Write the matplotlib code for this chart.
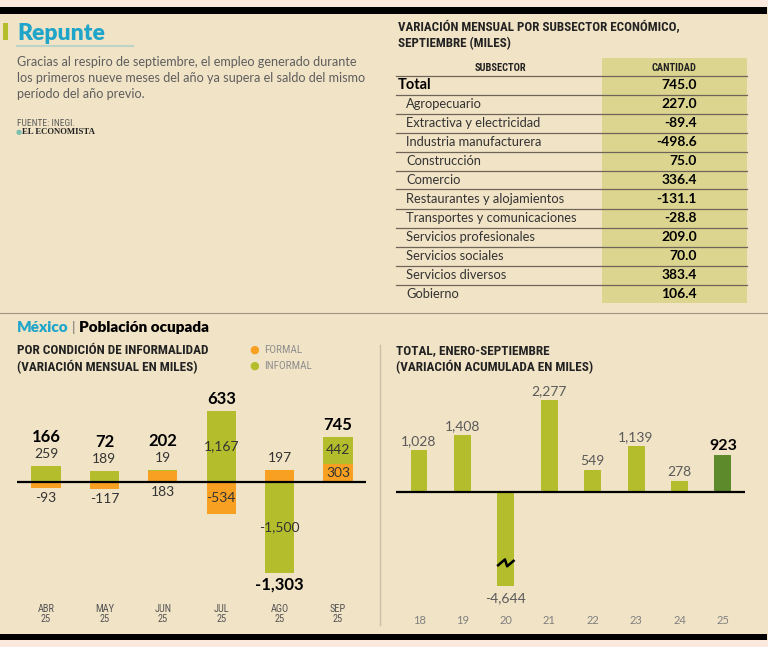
import numpy as np
import matplotlib
matplotlib.use('Agg')
import matplotlib.pyplot as plt
from matplotlib import font_manager
from matplotlib.patches import Rectangle

# --- data ---
meses = ['ABR\n25', 'MAY\n25', 'JUN\n25', 'JUL\n25', 'AGO\n25', 'SEP\n25']
formal = [-93, -117, 183, -534, 197, 303]
informal = [259, 189, 19, 1167, -1500, 442]
total_mes = [166, 72, 202, 633, -1303, 745]

anios = ['18', '19', '20', '21', '22', '23', '24', '25']
acumulado = [1028, 1408, -4644, 2277, 549, 1139, 278, 923]

subsectores = ['Agropecuario', 'Extractiva y electricidad', 'Industria manufacturera',
               'Construcción', 'Comercio', 'Restaurantes y alojamientos',
               'Transportes y comunicaciones', 'Servicios profesionales',
               'Servicios sociales', 'Servicios diversos', 'Gobierno']
cantidad = [227.0, -89.4, -498.6, 75.0, 336.4, -131.1, -28.8, 209.0, 70.0, 383.4, 106.4]
total_sub = 745.0

# --- fonts ---
names = {f.name for f in font_manager.fontManager.ttflist}
def pick(*cands):
    for c in cands:
        if c in names:
            return c
    return 'DejaVu Sans'
BODY = pick('Lato', 'Open Sans', 'DejaVu Sans')
COND = pick('Liberation Sans Narrow', 'Roboto Condensed', 'DejaVu Sans Condensed', 'Liberation Sans')
SERIF = pick('Liberation Serif', 'DejaVu Serif')

BG = '#f1e3c6'
PINK = '#fce9dd'
ORANGE = '#f7a021'
GREEN = '#b4bd2c'
DGREEN = '#5d8a2b'
CYAN = '#1ea5c9'
GRAY = '#5e5e5e'

W, H = 768, 647
fig = plt.figure(figsize=(W / 100, H / 100), dpi=100)
fig.patch.set_facecolor(BG)

def rect(x, y, w, h, color):
    fig.patches.append(Rectangle((x / W, 1 - (y + h) / H), w / W, h / H,
                                 transform=fig.transFigure, color=color, lw=0))

def txt(x, y, s, **kw):
    kw.setdefault('va', 'center')
    kw.setdefault('family', BODY)
    fig.text(x / W, 1 - y / H, s, **kw)

def hline(x0, x1, y, **kw):
    fig.add_artist(plt.Line2D([x0 / W, x1 / W], [1 - y / H, 1 - y / H],
                              transform=fig.transFigure, **kw))

# frame strips
rect(0, 0, W, 7, PINK)
rect(0, 7, 767, 7, 'black')
rect(0, 634, 767, 6, 'black')
rect(0, 640, W, 7, PINK)

# header left
rect(3, 23, 5, 17, GREEN)
txt(17, 33, 'Repunte', color=CYAN, fontsize=16.5, weight='heavy')
hline(17, 133, 46, color='#bcd3c8', lw=1.5)
parrafo = ['Gracias al respiro de septiembre, el empleo generado durante',
           'los primeros nueve meses del año ya supera el saldo del mismo',
           'período del año previo.']
for i, l in enumerate(parrafo):
    txt(17, 62 + 16 * i, l, color=GRAY, fontsize=9.05)
txt(17, 123, 'FUENTE: INEGI.', color=GRAY, fontsize=6.8, family=COND)
txt(16, 132, '●', color='#7dbfae', fontsize=5, family='DejaVu Sans')
txt(22, 132, 'EL ECONOMISTA', color='#222222', fontsize=6.3, family=SERIF, weight='bold')

# table
txt(398, 28, 'VARIACIÓN MENSUAL POR SUBSECTOR ECONÓMICO,', color='#222222', fontsize=9.4,
    family=COND, weight='bold')
txt(398, 44, 'SEPTIEMBRE (MILES)', color='#222222', fontsize=9.4, family=COND, weight='bold')
rect(602, 58, 145, 245, '#dcd58f')
txt(500, 68, 'SUBSECTOR', color='#222222', fontsize=7.5, family=COND, weight='bold', ha='center')
txt(674, 68, 'CANTIDAD', color='#222222', fontsize=7.5, family=COND, weight='bold', ha='center')
LINE = '#6e6558'
hline(396, 747, 76, color=LINE, lw=0.9)
txt(398, 85, 'Total', color='black', fontsize=10.5, weight='bold')
txt(697, 85, f'{total_sub:.1f}', color='black', fontsize=10, weight='bold', ha='right')
hline(396, 747, 94.5, color=LINE, lw=0.9)
for i, (n, v) in enumerate(zip(subsectores, cantidad)):
    yy = 104 + 19 * i
    txt(406, yy, n, color='#333333', fontsize=9.3)
    txt(697, yy, f'{v:.1f}', color='black', fontsize=10, weight='bold', ha='right')
    if i < len(subsectores) - 1:
        hline(396, 747, yy + 9.5, color=LINE, lw=0.9)

# separators
hline(0, W, 313, color='#a09580', lw=0.8)
fig.add_artist(plt.Line2D([380 / W, 380 / W], [1 - 345 / H, 1 - 625 / H],
                          transform=fig.transFigure, color='#cbbfa8', lw=1))

txt(17, 328, 'México', color=CYAN, fontsize=11, weight='heavy')
txt(71.5, 327, '|', color='#777777', fontsize=10)
txt(79, 328, 'Población ocupada', color='black', fontsize=11, weight='heavy')

txt(17, 351, 'POR CONDICIÓN DE INFORMALIDAD', color='#222222', fontsize=9.5, family=COND, weight='bold')
txt(17, 367, '(VARIACIÓN MENSUAL EN MILES)', color='#222222', fontsize=9.5, family=COND, weight='bold')
txt(254, 350, '●', color=ORANGE, fontsize=8, ha='center', family='DejaVu Sans')
txt(254, 366, '●', color=GREEN, fontsize=8, ha='center', family='DejaVu Sans')
txt(264, 350, 'FORMAL', color='#8f8f8f', fontsize=8, family=COND)
txt(264, 366, 'INFORMAL', color='#8f8f8f', fontsize=8, family=COND)

txt(396, 351, 'TOTAL, ENERO-SEPTIEMBRE', color='#222222', fontsize=9.5, family=COND, weight='bold')
txt(396, 367, '(VARIACIÓN ACUMULADA EN MILES)', color='#222222', fontsize=9.5, family=COND, weight='bold')

def fmt(v):
    return f'{v:,}'

PT = 0.72  # points per pixel

# --- left chart ---
ax = fig.add_axes([17 / W, 1 - 625 / H, 349 / W, 245 / H])
ax.set_facecolor('none')
ax.axis('off')
x = np.arange(len(meses))
ax.set_xlim(-0.497, 5.48)
ax.set_ylim(-(625 - 482) * 16.5, (482 - 380) * 16.5)
f = np.array(formal)
inf = np.array(informal)
fpos, fneg = np.maximum(f, 0), np.minimum(f, 0)
ipos, ineg = np.maximum(inf, 0), np.minimum(inf, 0)
ax.bar(x, fpos, 0.5, color=ORANGE)
ax.bar(x, fneg, 0.5, color=ORANGE)
ax.bar(x, ipos, 0.5, bottom=fpos, color=GREEN)
ax.bar(x, ineg, 0.5, bottom=fneg, color=GREEN)
ax.axhline(0, color='black', lw=1.6)

def lab(xi, yv, s, off, **kw):
    ax.annotate(s, (xi, yv), xytext=(0, off * PT), textcoords='offset points',
                ha='center', va='center', family=BODY, **kw)

for i in x:
    top = fpos[i] + ipos[i]
    bot = fneg[i] + ineg[i]
    above = below = False
    segs = [(f[i], 0), (inf[i], fpos[i] if inf[i] >= 0 else fneg[i])]
    for v, base in segs:
        if abs(v) >= 300:
            lab(i, base + v / 2, fmt(v), 0, color='#333333', fontsize=10)
        elif v < 0:
            lab(i, bot, fmt(v), -10, color='#333333', fontsize=10)
            below = True
        elif base + v == top:
            lab(i, top, fmt(v), 12, color='#333333', fontsize=10)
            above = True
        else:
            lab(i, 0, fmt(v), -10, color='#333333', fontsize=10)
    t = total_mes[i]
    if t >= 0:
        lab(i, top, fmt(t), 29 if above else 12, color='black', fontsize=12, weight='bold')
    else:
        lab(i, bot, fmt(t), -29 if below else -12, color='black', fontsize=12, weight='bold')
    ax.text(i, (625 - 614) / 245, meses[i], transform=ax.get_xaxis_transform(),
            ha='center', va='center', fontsize=7.5, family=COND, color='#555555', linespacing=0.95)

# --- right chart ---
ax2 = fig.add_axes([396 / W, 1 - 625 / H, 349 / W, 245 / H])
ax2.set_facecolor('none')
ax2.axis('off')
x2 = np.arange(len(anios))
ax2.set_xlim(-0.53, 7.51)
ax2.set_ylim(-(625 - 492) * 24.7, (492 - 380) * 24.7)
CUT = -2330  # bar truncated at axis break
acc = np.array(acumulado)
colors = [GREEN] * (len(anios) - 1) + [DGREEN]
ax2.bar(x2, np.maximum(acc, CUT), 0.39, color=colors)
ax2.axhline(0, color='black', lw=1.6)
for i, v in enumerate(acc):
    last = i == len(acc) - 1
    kw = dict(color='black', fontsize=11.5, weight='bold') if last else dict(color='#5a5a5a', fontsize=10)
    if v >= 0:
        ax2.annotate(fmt(int(v)), (i, v), xytext=(0, 9 * PT), textcoords='offset points',
                     ha='center', va='center', family=BODY, **kw)
    else:
        ax2.annotate(fmt(int(v)), (i, max(v, CUT)), xytext=(0, -12 * PT), textcoords='offset points',
                     ha='center', va='center', family=BODY, **kw)
        yb = -1750
        ax2.plot([i - 0.2, i - 0.02, i + 0.03, i + 0.2],
                 [yb - 80, yb + 85, yb - 85, yb + 70], color='black', lw=1.8,
                 solid_capstyle='butt')
    ax2.text(i, (625 - 620) / 245, anios[i], transform=ax2.get_xaxis_transform(),
             ha='center', va='center', fontsize=8, family=BODY, color='#808080')

fig.savefig('out.png', dpi=100, facecolor=BG)
